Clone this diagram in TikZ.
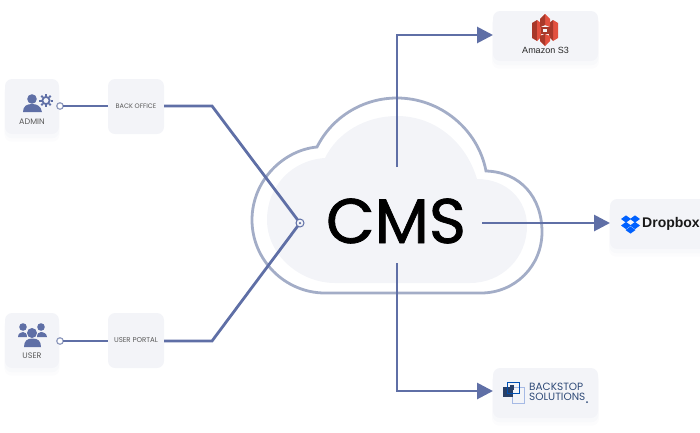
\documentclass[tikz,border=0pt]{standalone}
\usepackage{fontspec}
\setmainfont{Poppins}
\newfontfamily\arialfont{Liberation Sans}
\usetikzlibrary{arrows.meta,shadows}
\definecolor{linea}{HTML}{5F6FA6}
\definecolor{borde}{HTML}{A3ADC7}
\definecolor{fondo}{HTML}{F3F4F8}
\definecolor{rojoa}{HTML}{E2503F}
\definecolor{rojob}{HTML}{A8382A}
\definecolor{azuldrop}{HTML}{0061FF}
\definecolor{azulback}{HTML}{2F4A78}
\begin{document}
\begin{tikzpicture}[
    x=1pt, y=-1pt,
    caja/.style={rectangle, rounded corners=7pt, fill=fondo, inner sep=0pt, outer sep=0pt, align=center, font=\fontsize{6.5}{7.5}\selectfont, text=black!65},
    cajasombra/.style={caja,
        general shadow={shadow yshift=-7pt, shadow scale=1.02, fill=fondo, opacity=.25},
        general shadow={shadow yshift=-4pt, shadow scale=1.01, fill=fondo, opacity=.4}},
    chica/.style={minimum width=54pt, minimum height=55pt},
    grande/.style={minimum width=105pt, minimum height=50pt},
    etiqueta/.style={inner sep=0pt, font=\fontsize{8}{9}\selectfont, text=black!65},
    puerto/.style={circle, draw=borde!70!linea, fill=white, line width=1.2pt, minimum size=6.5pt, inner sep=0pt, outer sep=0pt},
    flujo/.style={draw=linea, line width=2.8pt, line join=miter},
    flecha/.style={flujo, -{Triangle[length=16pt,width=16pt]}},
    icono/.style={fill=linea, draw=none},
]

\useasboundingbox (0,0) rectangle (700,432);
\clip (0,0) rectangle (700,432);

\draw [draw=borde, line width=2.8pt] (252,220) .. controls (252,180) and (284,150) .. (317,147)
    .. controls (332,117) and (363,98) .. (397,98)
    .. controls (440,98) and (478,129) .. (486,171)
    .. controls (520,172) and (542,197) .. (542,232)
    .. controls (542,266) and (515,293) .. (481,293)
    -- (325,293)
    .. controls (285,293) and (252,260) .. (252,220) -- cycle;
\fill [fondo] (267,220) .. controls (267,186) and (292,160) .. (325,158)
    .. controls (337,133) and (365,116) .. (397,116)
    .. controls (435,116) and (466,142) .. (477,179)
    .. controls (507,179) and (527,200) .. (527,226)
    .. controls (527,258) and (502,283) .. (470,283)
    -- (335,283)
    .. controls (300,283) and (267,255) .. (267,220) -- cycle;

\node (cms) at (396,221) {\fontsize{63}{68}\selectfont\addfontfeature{FakeBold=1.2}CMS};

\node (admin) [cajasombra, chica] at (32,106.5) {};
\node (user) [cajasombra, chica] at (32,340.5) {};
\node (backoffice) [caja, chica, minimum width=56pt] at (136,106.5) {BACK OFFICE};
\node (userportal) [caja, chica, minimum width=56pt, font=\fontsize{7}{8}\selectfont] at (136,340.5) {USER PORTAL};
\node (amazon) [cajasombra, grande] at (545.5,36) {};
\node (dropbox) [cajasombra, grande] at (662.5,224) {};
\node (backstop) [cajasombra, grande] at (545.5,393) {};

\node (adminlabel) [etiqueta] at (32,122) {ADMIN};
\node (userlabel) [etiqueta] at (32,356) {USER};
\node (amazonlabel) [etiqueta, font=\fontsize{9}{10}\selectfont\arialfont, text=black!85] at (545.5,50) {Amazon S3};
\node (dropboxlabel) [inner sep=0pt, anchor=west, font=\fontsize{14}{16}\selectfont\arialfont\bfseries, text=black!90] at (642,224) {Dropbox};
\node (backstoplabel) [inner sep=0pt, anchor=west, align=left, text=azulback, font=\fontsize{10.5}{10.5}\selectfont] at (529,392) {BACKSTOP\\SOLUTIONS};
\node (backstopdot) [circle, fill=azulback, minimum size=2pt, inner sep=0pt] at (587,402) {};

\node (adminport) [puerto] at (60,106) {};
\node (userport) [puerto] at (60,341) {};
\coordinate (bendoffice) at (212,106);
\coordinate (bendportal) at (212,341);
\coordinate (bendamazon) at (397,35);
\coordinate (bendbackstop) at (397,391);
\coordinate (startup) at (397,167);
\coordinate (startdown) at (397,263);
\coordinate (startright) at (482,223);

\draw [flujo] (adminport.east) -- (backoffice.west |- adminport);
\draw [flujo] (userport.east) -- (userportal.west |- userport);
\node (hub) [circle, minimum size=9pt, inner sep=0pt, outer sep=0pt] at (300,223) {};
\draw [flujo] (backoffice.east |- bendoffice) -- (bendoffice) -- (hub.center);
\draw [flujo] (userportal.east |- bendportal) -- (bendportal) -- (hub.center);
\node (hubring) [circle, draw=linea, fill=fondo, line width=1pt, minimum size=8pt, inner sep=0pt] at (hub) {};
\node (hubdot) [circle, fill=linea, minimum size=2.5pt, inner sep=0pt] at (hub) {};

\draw [flecha] (startup) -- (bendamazon) -- (amazon.west |- bendamazon);
\draw [flecha] (startright) -- (dropbox.west |- startright);
\draw [flecha] (startdown) -- (bendbackstop) -- (backstop.west |- bendbackstop);

\fill [icono] (32,99) circle (4.8);
\fill [icono] (23,112) .. controls (23,106) and (27,104) .. (32,104) .. controls (37,104) and (41,106) .. (42,112) -- cycle;
\draw [linea, line width=1.8pt] (46,100.5) circle (3.6);
\foreach \ang in {0,45,...,315}
    \draw [linea, line width=2pt] (46,100.5) ++(\ang:4.5) -- ++(\ang:2.2);

\fill [icono] (32,333) circle (5);
\fill [icono] (24,347) .. controls (24,341) and (27,338.5) .. (32.5,338.5) .. controls (38,338.5) and (41,341) .. (41,347) -- cycle;
\foreach \xpos/\xa/\xb in {23/18/27,41/37/47} {
    \fill [icono] (\xpos,327) circle (3.8);
    \fill [icono] (\xa,337) .. controls (\xa,333.5) and (\xpos-2,332) .. (\xpos,332) .. controls (\xpos+2,332) and (\xb,333.5) .. (\xb,337) -- cycle;
}

\fill [rojob] (532,23) -- (537,20) -- (537,41) -- (532,38) -- cycle;
\fill [rojoa] (537,20) -- (541,23) -- (541,37) -- (537,41) -- cycle;
\fill [rojoa] (558,23) -- (553,20) -- (553,41) -- (558,38) -- cycle;
\fill [rojob] (553,20) -- (549,23) -- (549,37) -- (553,41) -- cycle;
\fill [rojoa] (540,19) -- (545,14) -- (550,19) -- (550,27) -- (545,25) -- (540,27) -- cycle;
\fill [rojob] (545,14) -- (540,19) -- (540,27) -- (545,25) -- cycle;
\fill [rojoa] (540,36) -- (545,34) -- (550,36) -- (550,41) -- (545,46) -- (540,41) -- cycle;
\fill [rojob] (540,36) -- (545,34) -- (545,46) -- (540,41) -- cycle;
\draw [rojob, line width=1.2pt] (542,28) rectangle (548,33);

\foreach \xa/\ya in {626/219,635/219,626/225.5,635/225.5,630.5/230}
    \fill [azuldrop] (\xa-5,\ya) -- (\xa,\ya-3.6) -- (\xa+5,\ya) -- (\xa,\ya+3.6) -- cycle;

\draw [cyan!45!blue!35, line width=1pt] (512,387) rectangle (524,403);
\fill [azulback!85!black] (503,387) rectangle (513,397);
\draw [blue!55!cyan!70!black, line width=1pt] (507,382) rectangle (519,393);
\fill [azulback!85!black] (510,385) rectangle (514,390);

\end{tikzpicture}
\end{document}
